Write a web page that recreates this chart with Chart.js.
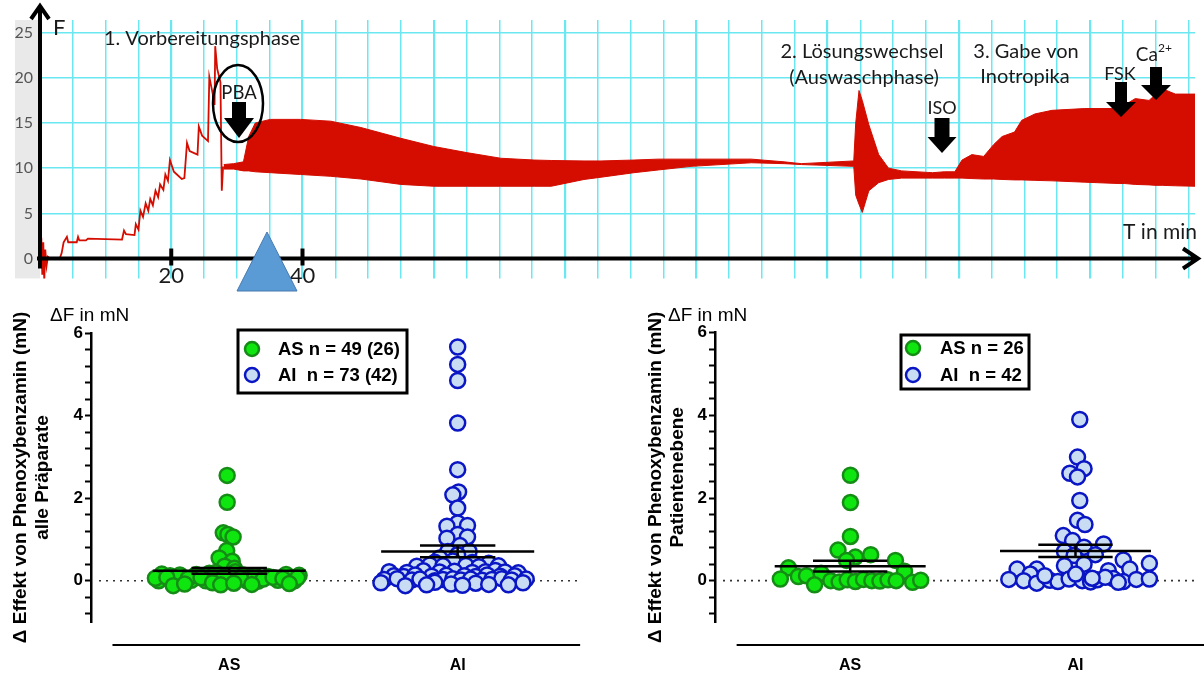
<!DOCTYPE html>
<html lang="de">
<head>
<meta charset="UTF-8">
<title>Phenoxybenzamin – Kraftverlauf und Effekt</title>
<script src="https://cdn.jsdelivr.net/npm/chart.js"></script>
<style>
  * { margin: 0; padding: 0; box-sizing: border-box; }
  html, body { width: 1204px; height: 673px; background: #fff; overflow: hidden; }
  canvas { position: absolute; display: block; }
  #traceChart { left: 0; top: 0; }
  #allChart { left: 0; top: 295px; }
  #patChart { left: 602px; top: 295px; }
</style>
</head>
<body>
<canvas id="traceChart" width="1204" height="295"></canvas>
<canvas id="allChart" width="602" height="378"></canvas>
<canvas id="patChart" width="602" height="378"></canvas>
<script>
// ---------- top panel: force trace, F over T in min ----------
// preparation phase (single line)
const prepT = [0, 0.2, 0.35, 0.5, 0.65, 0.8, 1.0, 1.2, 1.5, 3.0, 3.3, 3.6, 4.1, 4.3, 5.6, 5.8, 6.0, 7.0, 7.3, 12.5, 12.8, 13.1, 14.4,
  14.6, 15.0, 15.3, 15.7, 16.1, 16.5, 16.8, 17.2, 17.6, 18.0, 18.3, 18.8, 19.1, 19.5, 19.8, 20.4, 21.6, 22.0, 22.4, 22.8,
  24.0, 24.2, 24.7, 25.6, 25.8, 26.3, 26.6, 26.7, 27.0, 27.5, 27.7, 27.9, 28.0];
const prepF = [0, 2.3, -1.8, 1.8, -2.5, 1.0, -0.8, 0.2, 0, 0, 0.6, 1.8, 2.4, 1.8, 1.8, 2.4, 2.0, 2.0, 2.2, 2.1, 3.1, 2.7, 2.6,
  3.8, 3.2, 5.3, 4.6, 6.1, 5.3, 6.6, 5.9, 7.5, 6.8, 8.2, 7.6, 9.3, 8.6, 10.9, 9.6, 8.8, 8.9, 12.8, 11.9,
  11.5, 14.6, 13.6, 13.0, 20.1, 18.3, 17.0, 23.5, 21.0, 19.5, 7.5, 10.2, 10.2];
// contraction band after PBA: upper and lower envelope
const bandT = [28.0, 29.5, 31.0, 31.8, 32.8, 35.1, 39.7, 44.3, 48.9, 55.0, 60.0, 65.2, 70.2, 75.3, 77.9, 82.9, 85.5, 90.5,
  94.2, 99.2, 108.4, 113.4, 116.0, 124.0, 124.3, 124.8, 125.3, 126.3, 127.8, 129.3, 131.3, 136.0, 137.8, 139.4, 140.5,
  142.0, 143.8, 145.3, 146.6, 148.5, 149.6, 151.6, 154.2, 159.2, 164.4, 165.3, 166.9, 169.0, 169.9, 171.0, 173.0, 176.0];
const bandHi = [10.4, 10.5, 10.7, 13.5, 15.0, 15.4, 15.4, 15.2, 14.5, 13.3, 12.4, 11.7, 11.1, 10.9, 10.85, 10.8, 10.8, 10.9,
  11.0, 11.0, 11.0, 10.7, 10.5, 10.8, 15.0, 18.6, 17.5, 14.8, 11.5, 10.0, 9.7, 9.5, 9.6, 9.6, 10.9,
  11.5, 11.3, 12.6, 13.5, 14.0, 15.3, 16.0, 16.4, 16.6, 16.6, 17.0, 17.7, 17.5, 18.1, 18.8, 18.2, 18.2];
const bandLo = [9.9, 9.9, 9.7, 9.7, 9.6, 9.5, 9.3, 9.1, 8.8, 8.2, 8.0, 8.0, 8.0, 8.0, 8.0, 8.75, 9.0, 9.5,
  9.8, 10.2, 10.6, 10.5, 10.4, 10.2, 7.0, 6.0, 5.1, 7.5, 8.4, 8.75, 8.9, 8.9, 8.9, 8.9, 8.9,
  8.85, 8.8, 8.8, 8.75, 8.7, 8.7, 8.65, 8.6, 8.45, 8.3, 8.3, 8.2, 8.15, 8.1, 8.1, 8.05, 8.0];
const traceTicksY = [0, 5, 10, 15, 20, 25];
const traceLabelsX = [20, 40];

// ---------- bottom panels: Δ effect of phenoxybenzamine ----------
const groups = ['AS', 'AI'];
// all preparations
const asAllVals = [2.55, 1.90, 1.16, 1.12, 1.06, 0.73, 0.55, 0.47, 0.35, 0.30,
  0.00, -0.02, 0.01, 0.00, -0.03, 0.02, 0.00, -0.01, 0.01, 0.00,
  0.16, 0.12, 0.14, 0.15, 0.18, 0.20, 0.22, 0.14, 0.12, 0.10, 0.15, 0.13,
  0.06, 0.08, 0.05, 0.07, 0.09, 0.06, 0.04, 0.08, 0.05, 0.07,
  -0.12, -0.08, -0.05, -0.10, -0.06, -0.09, -0.07];
const asAllJit = [-0.009, -0.009, -0.026, -0.006, 0.017, -0.011, -0.044, 0.013, -0.020, 0.023,
  -0.309, -0.209, -0.166, -0.102, -0.044, -0.001, 0.077, 0.127, 0.213, 0.285,
  -0.295, -0.259, -0.216, -0.144, -0.087, -0.059, 0.027, 0.063, 0.113, 0.170, 0.249, 0.306,
  -0.323, -0.273, -0.180, -0.123, -0.023, 0.049, 0.149, 0.192, 0.235, 0.299,
  -0.245, -0.195, -0.073, -0.037, 0.020, 0.099, 0.263];
const aiAllVals = [5.66, 5.24, 4.85, 3.82, 2.69, 2.15, 2.08, 1.76, 1.40, 1.32, 1.34, 1.12, 1.03, 1.06, 0.85, 0.71, 0.71, 0.63, 0.55,
  0.45, 0.48, 0.44, 0.42,
  0.35, 0.38, 0.36, 0.37, 0.34, 0.36,
  0.22, 0.20, 0.24, 0.21, 0.23, 0.20, 0.22, 0.25, 0.21, 0.19,
  0.12, 0.10, 0.14, 0.11, 0.13, 0.12, 0.10, 0.14, 0.11, 0.12,
  0.03, 0.05, 0.02, 0.04, 0.00, 0.03, 0.05, 0.02, 0.04, 0.01, 0.03, 0.05, 0.02, 0.04,
  -0.05, -0.04, -0.06, -0.05,
  -0.12, -0.10, -0.08, -0.11, -0.09, -0.10];
const aiAllJit = [0, 0, 0, 0, 0, 0.004, -0.021, 0, 0, -0.047, 0.043, 0, -0.047, 0.043, 0.010, -0.043, 0.050, 0, -0.079,
  -0.100, -0.021, 0.064, 0.136,
  -0.179, -0.122, -0.064, 0.036, 0.093, 0.179,
  -0.300, -0.222, -0.150, -0.079, -0.014, 0.064, 0.122, 0.165, 0.207, 0.265,
  -0.279, -0.236, -0.186, -0.114, -0.050, 0.029, 0.079, 0.129, 0.186, 0.250,
  -0.322, -0.265, -0.200, -0.165, -0.100, -0.064, -0.021, 0.014, 0.057, 0.107, 0.150, 0.193, 0.236, 0.300,
  -0.336, -0.100, 0.079, 0.286,
  -0.229, -0.136, -0.029, 0.021, 0.136, 0.222];
const meanAll = [0.24, 0.71];
const semAll = [0.07, 0.14];
const legendAll = ['AS n = 49 (26)', 'AI  n = 73 (42)'];

// patient level
const asPatVals = [2.55, 1.89, 1.07, 0.74, 0.63, 0.57, 0.49, 0.49, 0.31, 0.18, 0.23, 0.10, 0.04, 0.12,
  -0.10, 0.00, -0.03, 0.02, -0.02, 0.03, 0.00, -0.01, 0.02, 0.00, -0.04, 0.01];
const asPatJit = [0.001, 0.001, 0.001, -0.054, 0.091, 0.023, 0.201, -0.016, -0.274, -0.129, 0.241, -0.230, -0.310, -0.194,
  -0.158, -0.086, -0.049, -0.013, 0.023, 0.059, 0.096, 0.132, 0.168, 0.204, 0.277, 0.313];
const aiPatVals = [3.90, 2.99, 2.71, 2.60, 2.51, 1.94, 1.46, 1.36, 1.09, 0.97, 0.89, 0.81, 0.71, 0.63, 0.61, 0.50, 0.42, 0.40,
  0.36, 0.28, 0.28, 0.24, 0.28, 0.16,
  0.03, 0.00, -0.06, 0.01, -0.02, 0.04, 0.00, -0.03, 0.02, 0.05, -0.02, 0.03, 0.04,
  0.12, 0.16, 0.08, -0.04, 0.06];
const aiPatJit = [0.019, 0.009, 0.038, -0.025, 0.009, 0.019, 0.009, 0.042, -0.054, -0.013, 0.125, 0.038, -0.049, 0.088, -0.006,
  0.212, 0.328, 0.038, -0.049, -0.259, -0.172, 0.146, 0.241, -0.201,
  -0.296, -0.230, -0.172, -0.114, -0.078, -0.028, 0.030, 0.067, 0.096, 0.168, 0.212, 0.270, 0.328,
  -0.136, 0.001, 0.132, 0.190, 0.074];
const meanPat = [0.35, 0.72];
const semPat = [0.13, 0.15];
const legendPat = ['AS n = 26', 'AI  n = 42'];

// ---------- styles ----------
const red = '#d40d00';
const gridCyan = '#6be7f1';
const green = '#0fe60f', greenEdge = '#158c15';
const blue = '#c8dcf4', blueEdge = '#0a16c4';
const sans = "'Liberation Sans', Arial, sans-serif";
const calib = "Lato, 'Open Sans', sans-serif";
Chart.defaults.font.family = sans;

// annotations of the trace (pixel positions on the top canvas)
const traceTexts = [
  { t: '1. Vorbereitungsphase', x: 202, y: 39, size: 20 },
  { t: 'PBA', x: 239, y: 93, size: 18.5 },
  { t: '2. Lösungswechsel', x: 862, y: 52, size: 20 },
  { t: '(Auswaschphase)', x: 864, y: 78, size: 20 },
  { t: '3. Gabe von', x: 1026, y: 52, size: 20 },
  { t: 'Inotropika', x: 1025, y: 77, size: 20 },
  { t: 'ISO', x: 942, y: 108, size: 18 },
  { t: 'FSK', x: 1120, y: 74, size: 18 }
];
const traceArrows = [
  { cx: 239, top: 102, neck: 118, tip: 138, sw: 14, hw: 30 },
  { cx: 942, top: 118, neck: 137, tip: 153, sw: 15, hw: 29 },
  { cx: 1121, top: 82, neck: 102, tip: 117, sw: 12, hw: 30 },
  { cx: 1156, top: 67, neck: 85, tip: 100, sw: 12, hw: 30 }
];

function blockArrow(ctx, a) {
  ctx.beginPath();
  ctx.moveTo(a.cx - a.sw / 2, a.top);
  ctx.lineTo(a.cx + a.sw / 2, a.top);
  ctx.lineTo(a.cx + a.sw / 2, a.neck);
  ctx.lineTo(a.cx + a.hw / 2, a.neck);
  ctx.lineTo(a.cx, a.tip);
  ctx.lineTo(a.cx - a.hw / 2, a.neck);
  ctx.lineTo(a.cx - a.sw / 2, a.neck);
  ctx.closePath();
  ctx.fill();
}

const traceDecor = {
  id: 'traceDecor',
  beforeDraw(chart) {
    const { ctx, chartArea: a } = chart;
    ctx.save();
    ctx.fillStyle = '#e9e9e9';
    ctx.fillRect(15, a.top, a.left - 15, a.bottom - a.top);
    ctx.restore();
  },
  afterDraw(chart) {
    const { ctx, chartArea: a, scales: { x, y } } = chart;
    const x0 = x.getPixelForValue(0), y0 = y.getPixelForValue(0);
    ctx.save();
    ctx.strokeStyle = '#000';
    ctx.fillStyle = '#000';
    ctx.lineWidth = 4;
    // axes with arrow heads
    ctx.beginPath();
    ctx.moveTo(x0, a.bottom - 10); ctx.lineTo(x0, 7);
    ctx.moveTo(x0 - 9, 19); ctx.lineTo(x0, 6); ctx.lineTo(x0 + 9, 19);
    ctx.moveTo(37, y0); ctx.lineTo(1198, y0);
    ctx.moveTo(1183, y0 - 10); ctx.lineTo(1198, y0); ctx.lineTo(1183, y0 + 10);
    ctx.stroke();
    traceLabelsX.forEach(v => {
      const px = x.getPixelForValue(v);
      ctx.beginPath(); ctx.moveTo(px, y0 - 10); ctx.lineTo(px, y0 + 7); ctx.stroke();
    });
    // texts
    ctx.fillStyle = '#1a1a1a';
    ctx.textAlign = 'center'; ctx.textBaseline = 'middle';
    traceTexts.forEach(n => {
      ctx.font = n.size + 'px ' + calib;
      ctx.fillText(n.t, n.x, n.y);
    });
    ctx.font = '19px ' + calib;
    ctx.textAlign = 'right';
    ctx.fillText('Ca', 1158, 55);
    ctx.font = '12px ' + calib;
    ctx.textAlign = 'left';
    ctx.fillText('2+', 1158, 48);
    ctx.font = '22px ' + calib;
    ctx.fillText('F', 53, 28);
    ctx.font = '21px ' + calib;
    ctx.textAlign = 'right';
    ctx.fillText('T in min', 1197, 232);
    // PBA ellipse and arrows
    ctx.fillStyle = '#000';
    ctx.lineWidth = 2.5;
    ctx.beginPath(); ctx.ellipse(238, 103.5, 25, 38.5, 0, 0, Math.PI * 2); ctx.stroke();
    traceArrows.forEach(ar => blockArrow(ctx, ar));
    // blue marker triangle
    ctx.fillStyle = '#5b9bd5';
    ctx.strokeStyle = '#4679b0';
    ctx.lineWidth = 1;
    ctx.beginPath(); ctx.moveTo(267, 232); ctx.lineTo(297, 291); ctx.lineTo(237, 291); ctx.closePath();
    ctx.fill(); ctx.stroke();
    ctx.restore();
  }
};

const gridX = [];
for (let k = 1; k <= 35; k++) gridX.push(k * 5);

new Chart(document.getElementById('traceChart'), {
  type: 'line',
  data: {
    datasets: [
      { data: bandT.map((t, i) => ({ x: t, y: bandHi[i] })), borderColor: red, borderWidth: 1, fill: false },
      { data: bandT.map((t, i) => ({ x: t, y: bandLo[i] })), borderColor: red, borderWidth: 1, backgroundColor: red, fill: '-1' },
      { data: prepT.map((t, i) => ({ x: t, y: prepF[i] })), borderColor: red, borderWidth: 1.8, fill: false }
    ]
  },
  options: {
    responsive: false,
    animation: false,
    layout: { padding: { top: 20, right: 9, bottom: 13, left: 0 } },
    elements: { point: { radius: 0 }, line: { tension: 0 } },
    scales: {
      x: {
        type: 'linear', min: 0, max: 176, position: { y: 0 },
        afterBuildTicks: s => { s.ticks = gridX.map(v => ({ value: v })); },
        ticks: { callback: v => traceLabelsX.includes(v) ? String(v) : '', font: { size: 22, family: calib },
          color: '#1a1a1a', padding: 4, maxRotation: 0, autoSkip: false },
        grid: { color: gridCyan, lineWidth: c => (c.tick && c.tick.value % 20 === 0 ? 2.2 : 1.5), drawTicks: false },
        border: { display: false }
      },
      y: {
        min: -2.2, max: 26.4,
        afterBuildTicks: s => { s.ticks = traceTicksY.map(v => ({ value: v })); },
        afterFit: s => { s.width = 40; },
        ticks: { font: { size: 16, family: calib }, color: '#555', padding: 7 },
        grid: { color: gridCyan, lineWidth: 1.6, drawTicks: false },
        border: { display: false }
      }
    },
    plugins: { legend: { display: false }, tooltip: { enabled: false } }
  },
  plugins: [traceDecor]
});

// ---------- swarm plots ----------
const swarmDecor = {
  id: 'swarmDecor',
  beforeDatasetsDraw(chart, args, o) {
    const { ctx, chartArea: a, scales: { x, y } } = chart;
    const y0 = y.getPixelForValue(0);
    ctx.save();
    ctx.strokeStyle = '#333';
    ctx.lineWidth = 1.6;
    ctx.setLineDash([2, 5]);
    ctx.beginPath(); ctx.moveTo(a.left + 8, y0); ctx.lineTo(x.getPixelForValue(o.zeroEnd), y0); ctx.stroke();
    ctx.restore();
  },
  afterDatasetsDraw(chart, args, o) {
    const { ctx, chartArea: a, scales: { x, y } } = chart;
    ctx.save();
    ctx.strokeStyle = '#000';
    ctx.lineWidth = 2.5;
    const seg = (x1, y1, x2, y2) => { ctx.beginPath(); ctx.moveTo(x1, y1); ctx.lineTo(x2, y2); ctx.stroke(); };
    o.means.forEach((m, i) => {
      const c = i + 1;
      const ym = y.getPixelForValue(m);
      const yh = y.getPixelForValue(m + o.sems[i]);
      const yl = y.getPixelForValue(m - o.sems[i]);
      seg(x.getPixelForValue(c - 0.335), ym, x.getPixelForValue(c + 0.335), ym);
      seg(x.getPixelForValue(c - 0.165), yh, x.getPixelForValue(c + 0.165), yh);
      seg(x.getPixelForValue(c - 0.165), yl, x.getPixelForValue(c + 0.165), yl);
      seg(x.getPixelForValue(c), yh, x.getPixelForValue(c), yl);
    });
    // category axis (offset below the y axis)
    ctx.lineWidth = 2;
    seg(x.getPixelForValue(o.axisFrom), a.bottom + 23, x.getPixelForValue(o.axisTo), a.bottom + 23);
    // unit label
    ctx.fillStyle = '#000';
    ctx.font = '19px ' + sans;
    ctx.textAlign = 'left'; ctx.textBaseline = 'middle';
    ctx.fillText('ΔF in mN', a.left + o.unitDx, a.top - 17);
    // legend box
    const b = o.box;
    ctx.lineWidth = 3;
    ctx.strokeRect(b.x, b.y, b.w, b.h);
    ctx.font = 'bold 18.5px ' + sans;
    chart.data.datasets.forEach((ds, i) => {
      const cy = b.y + b.row0 + i * b.rowGap;
      ctx.beginPath(); ctx.arc(b.x + b.mx, cy, 7, 0, Math.PI * 2);
      ctx.fillStyle = ds.backgroundColor; ctx.fill();
      ctx.lineWidth = 2.5; ctx.strokeStyle = ds.borderColor; ctx.stroke();
      ctx.fillStyle = '#000';
      ctx.fillText(ds.label, b.x + b.tx, cy + 1);
    });
    ctx.restore();
  }
};

const yMinor = [];
for (let k = -2; k <= 15; k++) yMinor.push(Math.round(k * 4) / 10);
const yLabels = [0, 2, 4, 6];

function swarmChart(id, o) {
  const toPts = (vals, jit, c) => vals.map((v, i) => ({ x: c + jit[i], y: v }));
  return new Chart(document.getElementById(id), {
    type: 'scatter',
    data: {
      datasets: [
        { label: o.labels[0], data: toPts(o.asVals, o.asJit, 1), backgroundColor: green, borderColor: greenEdge },
        { label: o.labels[1], data: toPts(o.aiVals, o.aiJit, 2), backgroundColor: blue, borderColor: blueEdge }
      ]
    },
    options: {
      responsive: false,
      animation: false,
      layout: { padding: { top: o.padTop, left: o.padLeft, right: 0, bottom: 0 } },
      elements: { point: { radius: 7.5, borderWidth: 2.5, hoverRadius: 7.5 } },
      scales: {
        x: {
          type: 'linear', min: o.xMin, max: o.xMax,
          afterBuildTicks: s => { s.ticks = groups.map((g, i) => ({ value: i + 1 })); },
          afterFit: s => { s.height = 51; },
          ticks: { callback: v => groups[v - 1], font: { size: 16, weight: 'bold' }, color: '#000', padding: 26 },
          grid: { display: false },
          border: { display: false }
        },
        y: {
          min: -1, max: 6,
          afterBuildTicks: s => { s.ticks = yMinor.map(v => ({ value: v })); },
          afterFit: s => { s.width = o.axisW; },
          ticks: { callback: v => yLabels.includes(v) ? String(v) : '', font: { size: 17, weight: 'bold' }, color: '#000', padding: 2, autoSkip: false },
          grid: { drawOnChartArea: false, drawTicks: true, tickLength: 6, tickWidth: 2, tickColor: '#000' },
          border: { display: true, color: '#000', width: 2.5 },
          title: { display: true, text: ['Δ Effekt von Phenoxybenzamin (mN)', o.subtitle], color: '#000',
            font: { size: 19, weight: 'bold', lineHeight: 1.2 }, padding: { top: 9, bottom: 0 } }
        }
      },
      plugins: {
        legend: { display: false },
        tooltip: { enabled: false },
        swarmDecor: { means: o.means, sems: o.sems, zeroEnd: o.zeroEnd, axisFrom: o.axisFrom, axisTo: o.axisTo,
          unitDx: o.unitDx, box: o.box }
      }
    },
    plugins: [swarmDecor]
  });
}

swarmChart('allChart', {
  labels: legendAll, asVals: asAllVals, asJit: asAllJit, aiVals: aiAllVals, aiJit: aiAllJit,
  means: meanAll, sems: semAll, subtitle: 'alle Präparate',
  padTop: 38, padLeft: 0, axisW: 91, xMin: 0.395, xMax: 2.588,
  zeroEnd: 2.54, axisFrom: 0.489, axisTo: 2.536, unitDx: -41,
  box: { x: 238, y: 35, w: 169, h: 63, mx: 14, tx: 40, row0: 19, rowGap: 26 }
});
swarmChart('patChart', {
  labels: legendPat, asVals: asPatVals, asJit: asPatJit, aiVals: aiPatVals, aiJit: aiPatJit,
  means: meanPat, sems: semPat, subtitle: 'Patientenebene',
  padTop: 37.7, padLeft: 33, axisW: 80, xMin: 0.4, xMax: 2.526,
  zeroEnd: 2.526, axisFrom: 0.496, axisTo: 2.6, unitDx: -47,
  box: { x: 299, y: 40, w: 128, h: 54, mx: 12, tx: 39, row0: 13, rowGap: 27 }
});
</script>
</body>
</html>
